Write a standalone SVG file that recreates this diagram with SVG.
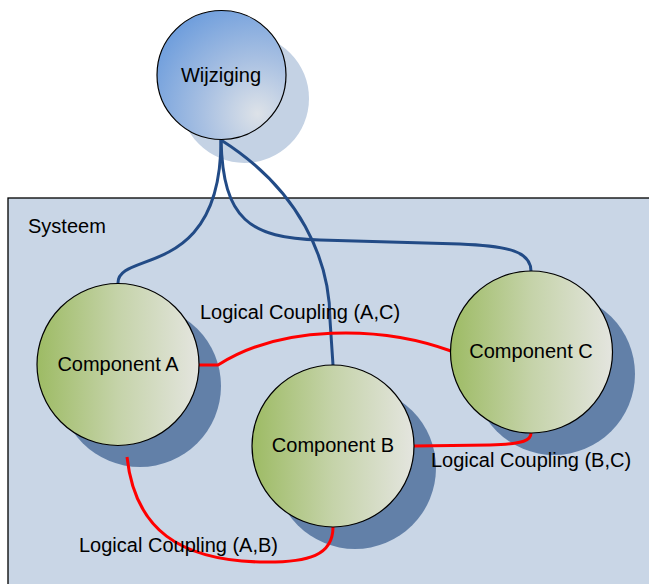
<svg xmlns="http://www.w3.org/2000/svg" width="649" height="584" viewBox="0 0 649 584">
<defs>
<radialGradient id="gBlue" cx="0.78" cy="0.8" r="0.95" fx="0.78" fy="0.8">
<stop offset="0" stop-color="#dde2e8"/>
<stop offset="0.45" stop-color="#a8c0e2"/>
<stop offset="1" stop-color="#6a9bdc"/>
</radialGradient>
<linearGradient id="gGreen" x1="0" y1="0" x2="1" y2="0">
<stop offset="0" stop-color="#9dbb64"/>
<stop offset="0.5" stop-color="#c5d3a9"/>
<stop offset="1" stop-color="#e4e5df"/>
</linearGradient>
<style>
.lbl{font-family:"Liberation Sans",Arial,sans-serif;font-size:20px;fill:#000}
.mid{text-anchor:middle}
.node{stroke:#000;stroke-width:1.2}
.shadow{fill:#6280a8}
.blue{fill:none;stroke:#224b86;stroke-width:3}
.red{fill:none;stroke:#ff0000;stroke-width:3}
</style>
</defs>
<rect id="systeem" x="8" y="198" width="660" height="400" fill="#c9d6e6" stroke="#000" stroke-width="1.3"/>
<text class="lbl" x="28" y="233">Systeem</text>
<g id="shadows">
<circle cx="244.5" cy="98.5" r="64.5" fill="#c4d2e4"/>
<circle class="shadow" cx="140" cy="386" r="81"/>
<circle class="shadow" cx="355" cy="468" r="81"/>
<circle class="shadow" cx="554" cy="374" r="81"/>
</g>
<g id="connectors">
<path class="blue" d="M221,140 C221,280 118,250 118,283"/>
<path class="blue" d="M221,140 C300,190 330,260 330,320 L333,365"/>
<path class="blue" d="M221,140 C223,220 250,238 320,240 L460,244 C510,246 531,252 531,271"/>
<path class="red" d="M198,365 L218,365 C280,325 380,325 451,351"/>
<path class="red" d="M414,446 L490,445 C525,444 531,440 531,433"/>
<path class="red" d="M127,457 C135,530 180,560 260,562 C310,563 333,555 333,527"/>
</g>
<g id="wijziging">
<circle class="node" cx="221.5" cy="75" r="64.5" fill="url(#gBlue)"/>
<text class="lbl mid" x="221" y="82">Wijziging</text>
</g>
<g id="componentA">
<circle class="node" cx="118" cy="364.5" r="81" fill="url(#gGreen)"/>
<text class="lbl mid" x="118" y="371">Component A</text>
</g>
<g id="componentB">
<circle class="node" cx="333" cy="446" r="81" fill="url(#gGreen)"/>
<text class="lbl mid" x="333" y="452">Component B</text>
</g>
<g id="componentC">
<circle class="node" cx="531.5" cy="352" r="81" fill="url(#gGreen)"/>
<text class="lbl mid" x="531" y="358">Component C</text>
</g>
<g id="labels">
<text class="lbl" x="200" y="319">Logical Coupling (A,C)</text>
<text class="lbl" x="431" y="467">Logical Coupling (B,C)</text>
<text class="lbl" x="79" y="552">Logical Coupling (A,B)</text>
</g>
</svg>
